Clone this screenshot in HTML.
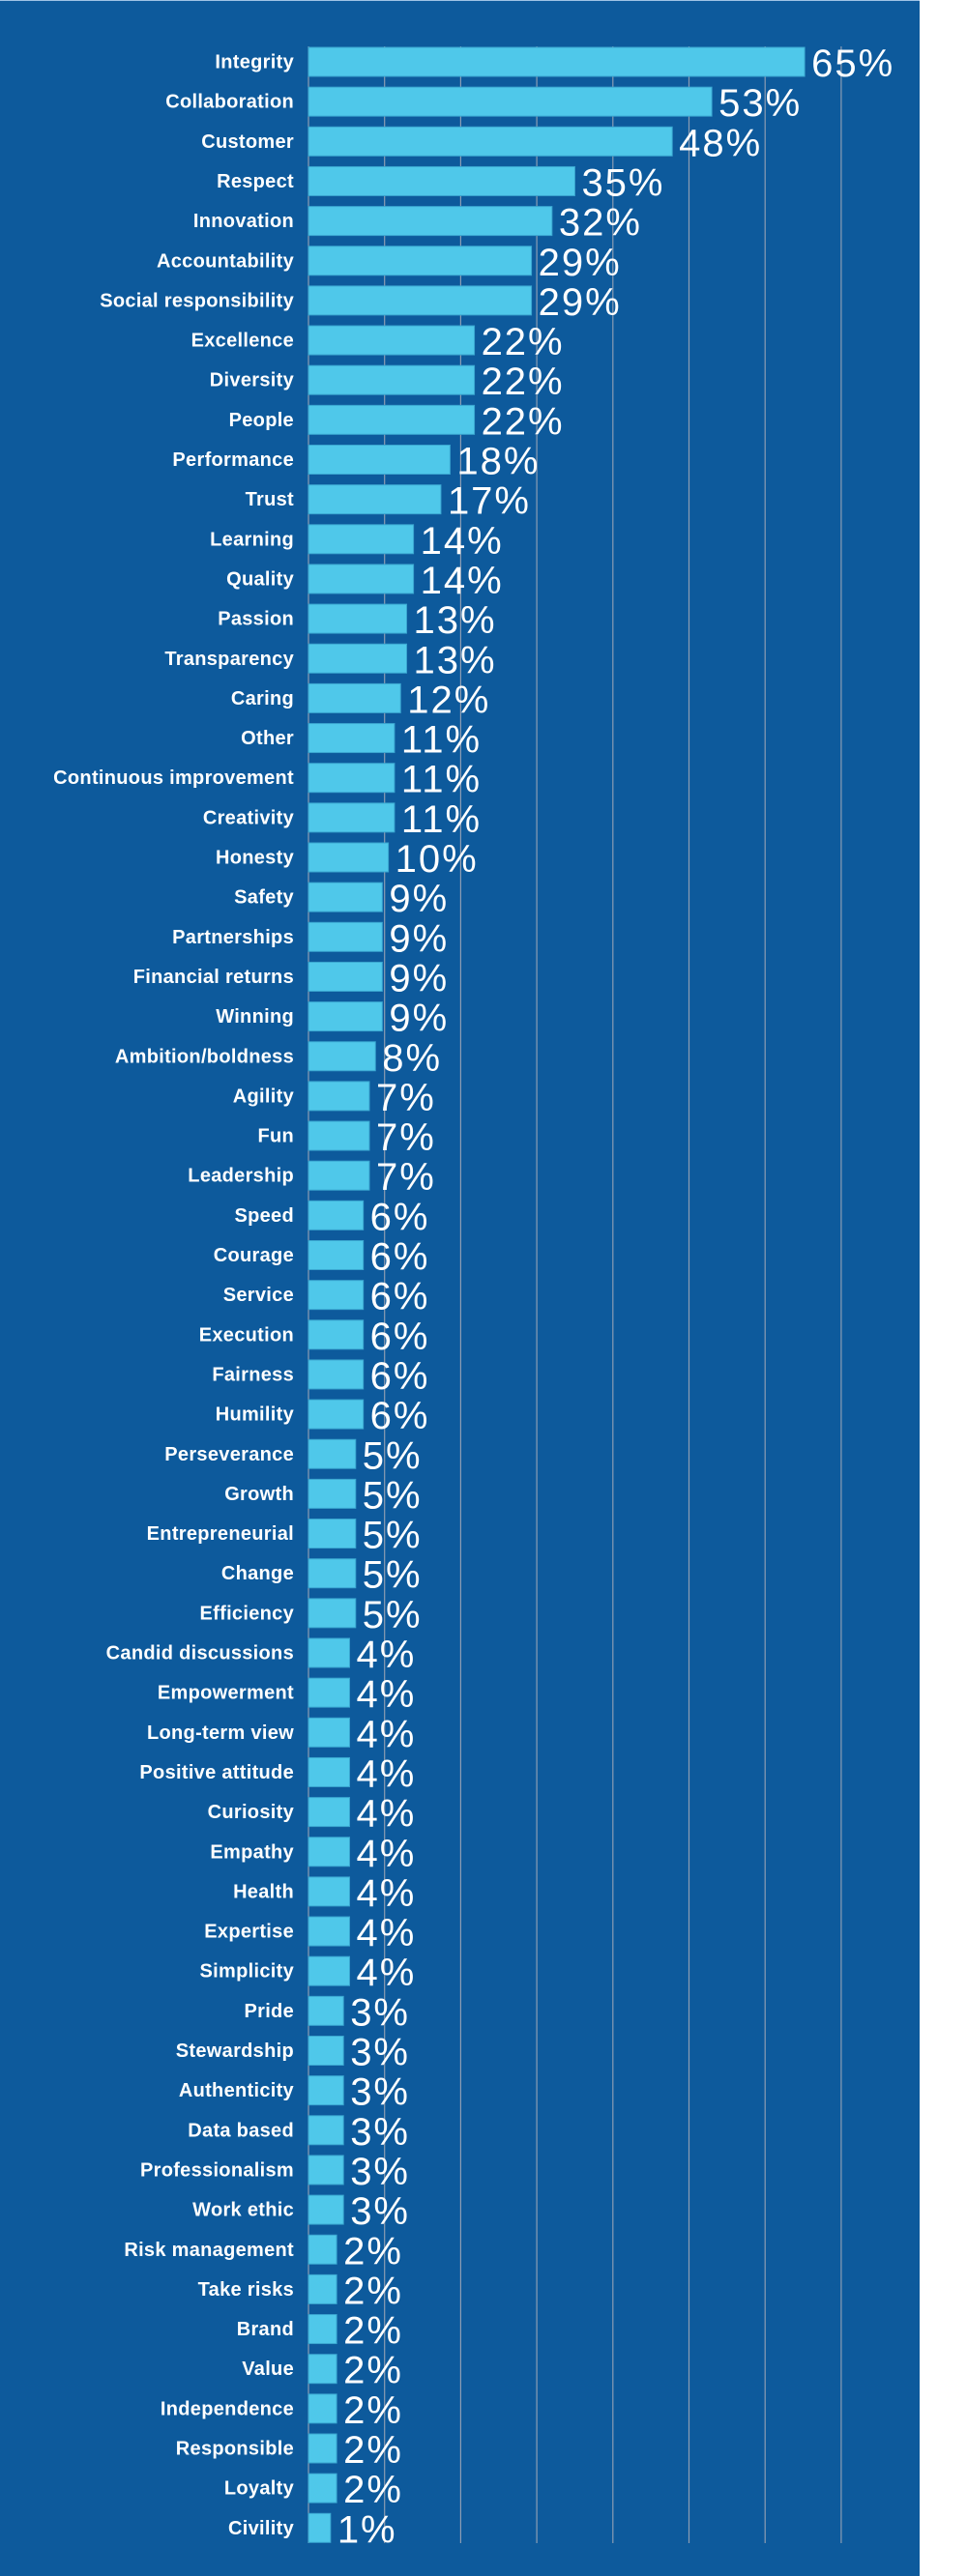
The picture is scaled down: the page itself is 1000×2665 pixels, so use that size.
<!DOCTYPE html>
<html><head><meta charset="utf-8"><style>
html,body{margin:0;padding:0;background:#fff;}
svg{display:block;}
</style></head><body>
<svg id="chart" width="1000" height="2665" viewBox="0 0 1000 2665" xmlns="http://www.w3.org/2000/svg">
<rect x="0" y="0" width="951" height="2665" fill="#0d5a9c"/>
<line x1="0" y1="0.5" x2="951" y2="0.5" stroke="#9fc3e6" stroke-width="1"/>
<g id="grid"></g><g id="bars"></g><g id="labels"></g>
</svg>
<script>
const categories = ["Integrity","Collaboration","Customer","Respect","Innovation","Accountability","Social responsibility","Excellence","Diversity","People","Performance","Trust","Learning","Quality","Passion","Transparency","Caring","Other","Continuous improvement","Creativity","Honesty","Safety","Partnerships","Financial returns","Winning","Ambition/boldness","Agility","Fun","Leadership","Speed","Courage","Service","Execution","Fairness","Humility","Perseverance","Growth","Entrepreneurial","Change","Efficiency","Candid discussions","Empowerment","Long-term view","Positive attitude","Curiosity","Empathy","Health","Expertise","Simplicity","Pride","Stewardship","Authenticity","Data based","Professionalism","Work ethic","Risk management","Take risks","Brand","Value","Independence","Responsible","Loyalty","Civility"];
const printedValues = [65,53,48,35,32,29,29,22,22,22,18,17,14,14,13,13,12,11,11,11,10,9,9,9,9,8,7,7,7,6,6,6,6,6,6,5,5,5,5,5,4,4,4,4,4,4,4,4,4,3,3,3,3,3,3,2,2,2,2,2,2,2,1];
const barLengths = [65.2,53,47.8,35,32,29.3,29.3,21.8,21.8,21.8,18.6,17.4,13.8,13.8,12.9,12.9,12.1,11.3,11.3,11.3,10.5,9.7,9.7,9.7,9.7,8.8,8,8,8,7.2,7.2,7.2,7.2,7.2,7.2,6.2,6.2,6.2,6.2,6.2,5.4,5.4,5.4,5.4,5.4,5.4,5.4,5.4,5.4,4.6,4.6,4.6,4.6,4.6,4.6,3.7,3.7,3.7,3.7,3.7,3.7,3.7,2.9];
const gridTicks = [10,20,30,40,50,60,70];

const NS="http://www.w3.org/2000/svg";
const x0=319, pxPer=7.87, y0=64, pitch=41.15, barH=30;
const xs = v => x0 + v*pxPer;
const yc = i => y0 + i*pitch;
const grid=document.getElementById('grid'), bars=document.getElementById('bars'), labels=document.getElementById('labels');
function mk(tag, attrs){const e=document.createElementNS(NS,tag);for(const k in attrs)e.setAttribute(k,attrs[k]);return e;}
const gTop=48, gBot=2631;
gridTicks.forEach(t=>{
  const l=mk('line',{x1:xs(t),x2:xs(t),y1:gTop,y2:gBot,stroke:'#8c9db3','stroke-width':1.2});
  
  
  grid.appendChild(l);
});
const ax=mk('line',{x1:x0,x2:x0,y1:gTop,y2:gBot,stroke:'#8c9db3','stroke-width':1.2});


grid.appendChild(ax);
categories.forEach((c,i)=>{
  const y=yc(i);
  const r=mk('rect',{x:x0,y:y-barH/2,width:xs(barLengths[i])-x0,height:barH,fill:'#4fc8ea',stroke:'#3aa6d0','stroke-width':1});
  
  
  bars.appendChild(r);
  const t=mk('text',{x:304,y:y+6.5,'text-anchor':'end',fill:'#fff','font-family':'"Liberation Sans",sans-serif','font-weight':'bold','font-size':20,'letter-spacing':0.3});
  t.textContent=c;
  
  
  labels.appendChild(t);
  const v=mk('text',{x:xs(barLengths[i])+7,y:y+15,fill:'#fff','font-family':'"Liberation Sans",sans-serif','font-size':40,'letter-spacing':2});
  v.textContent=printedValues[i]+'%';
  
  
  labels.appendChild(v);
});
</script>
</body></html>
